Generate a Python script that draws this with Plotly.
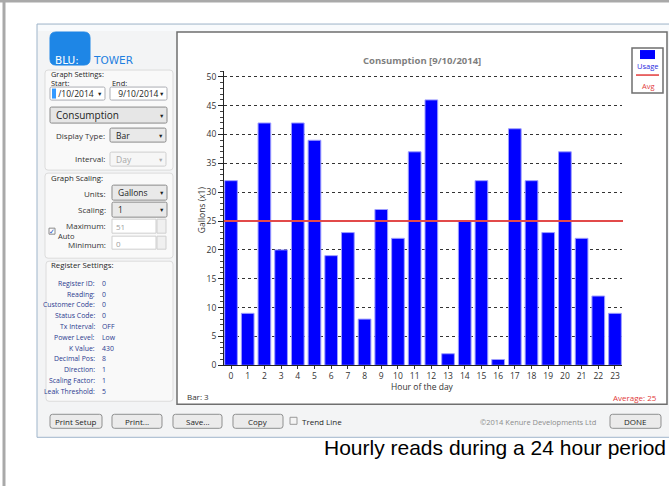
import plotly.graph_objects as go

W, H = 669, 491

# ---------------- data ----------------
hours = list(range(24))
usage = [32, 9, 42, 20, 42, 39, 19, 23, 8, 27, 22, 37, 46, 2, 25, 32, 1, 41, 32, 23, 37, 22, 12, 9]
y_tick_vals = list(range(0, 51, 5))
y_axis_max = 51
chart_title = "Consumption [9/10/2014]"
x_title = "Hour of the day"
y_title = "Gallons (x1)"
selected_bar = "Bar: 3"
caption = "Hourly reads during a 24 hour period"
register_labels = ["Register ID:", "Reading:", "Customer Code:", "Status Code:", "Tx Interval:",
                   "Power Level:", "K Value:", "Decimal Pos:", "Direction:", "Scaling Factor:",
                   "Leak Threshold:"]
register_values = ["0", "0", "0", "0", "OFF", "Low", "430", "8", "1", "1", "5"]
start_date = "9/10/2014"
end_date = "9/10/2014"

avg = round(sum(usage) / len(usage))

# ---------------- pixel helpers ----------------
YK = 1.011  # vertical compensation for the photographed page


def X(px):
    return px / W


def Y(py):
    return max(0.0, 1 - py * YK / H)


PL, PR, PT, PB = 224, 622, 71, 365
UI_FONT = "Open Sans"

shapes = []
annotations = []


def rect(x0, y0, x1, y1, fill="rgba(0,0,0,0)", line="#a0a0a0", lw=1, layer="below"):
    shapes.append(dict(type="rect", xref="paper", yref="paper",
                       x0=X(x0), x1=X(x1), y0=Y(y1), y1=Y(y0),
                       fillcolor=fill, line=dict(color=line, width=lw), layer=layer))


def rrect(x0, y0, x1, y1, r=2, fill="#ececec", line="#9a9a9a", lw=1, layer="below"):
    def p(px, py):
        return f"{X(px):.5f},{Y(py):.5f}"
    path = (f"M {p(x0 + r, y0)} L {p(x1 - r, y0)} Q {p(x1, y0)} {p(x1, y0 + r)} "
            f"L {p(x1, y1 - r)} Q {p(x1, y1)} {p(x1 - r, y1)} "
            f"L {p(x0 + r, y1)} Q {p(x0, y1)} {p(x0, y1 - r)} "
            f"L {p(x0, y0 + r)} Q {p(x0, y0)} {p(x0 + r, y0)} Z")
    shapes.append(dict(type="path", xref="paper", yref="paper", path=path,
                       fillcolor=fill, line=dict(color=line, width=lw), layer=layer))


def hline(x0, x1, y, color, lw=1, layer="above"):
    shapes.append(dict(type="line", xref="paper", yref="paper",
                       x0=X(x0), x1=X(x1), y0=Y(y), y1=Y(y),
                       line=dict(color=color, width=lw), layer=layer))


def vline(x, y0, y1, color, lw=1, layer="above"):
    shapes.append(dict(type="line", xref="paper", yref="paper",
                       x0=X(x), x1=X(x), y0=Y(y0), y1=Y(y1),
                       line=dict(color=color, width=lw), layer=layer))


def txt(x, y, s, size=8.5, color="#1e1e1e", anchor="left", family=UI_FONT, angle=0):
    annotations.append(dict(x=X(x), y=Y(y), xref="paper", yref="paper", text=s,
                            showarrow=False, xanchor=anchor, yanchor="middle",
                            font=dict(size=size, color=color, family=family),
                            textangle=angle))


def combo(x0, y0, x1, y1, text, fill="#ffffff", line="#abadb3", tcolor="#1e1e1e", size=8.5):
    rrect(x0, y0, x1, y1, r=1.5, fill=fill, line=line)
    txt(x0 + 4, (y0 + y1) / 2, text, size=size, color=tcolor)
    txt(x1 - 6, (y0 + y1) / 2 + 0.5, "▼", size=5.5, color=tcolor, anchor="center")


def button(x0, y0, x1, y1, text):
    rrect(x0, y0, x1, y1, r=2.5, fill="#ebebeb", line="#8e8f8f")
    txt((x0 + x1) / 2, (y0 + y1) / 2, text, size=8, anchor="center")


# ---------------- outer frame & window ----------------
vline(4, 0, H, "#a9a9a9", lw=3, layer="below")
hline(0, W, 1, "#a9a9a9", lw=3, layer="below")
rect(37, 24, 672, 437, fill="#f3f4f5", line="#9fb5cb", lw=1)
rect(38, 25, 672, 31, fill="#f8fafc", line="rgba(0,0,0,0)", lw=0)

# logo
rrect(50, 32, 90, 65, r=6, fill="#1e86e6", line="#1e86e6")
txt(53, 60, "BLU:", size=10.5, color="#ffffff", family="DejaVu Sans")
txt(91, 60, "TOWER", size=10.5, color="#1e7fe0", family="DejaVu Sans")

# group boxes
rrect(45, 70, 173, 170, r=3, fill="#f9f9f9", line="#dcdcdc")
rrect(45, 173, 173, 258, r=3, fill="#f9f9f9", line="#dcdcdc")
rrect(46, 261, 173, 401, r=3, fill="#f9f9f9", line="#dcdcdc")

# graph settings
txt(49, 74, "Graph Settings:", size=7.4)
txt(49, 82.5, "Start:", size=7.4)
txt(110, 82.5, "End:", size=7.4)
combo(50, 87, 105, 100, " " + start_date[1:])
rect(52, 88.5, 56, 98.5, fill="#3399ff", line="#3399ff", lw=0)
combo(110, 87, 167, 100, " " + end_date)
combo(50, 107, 167, 123, "Consumption", fill="#e6e6e6", line="#8a8a8a", size=10)
txt(107, 135, "Display Type:", size=8, color="#333333", anchor="right")
combo(110, 128, 166, 142, "Bar", fill="#e9e9e9", line="#8a8a8a")
txt(107, 158, "Interval:", size=8, color="#333333", anchor="right")
combo(110, 152, 166, 166, "Day", fill="#f6f6f6", line="#cfcfcf", tcolor="#a8a8a8")

# graph scaling
txt(49, 178, "Graph Scaling:", size=7.8)
txt(108, 193, "Units:", size=8, color="#333333", anchor="right")
combo(112, 185, 167, 200, "Gallons", fill="#e9e9e9", line="#8a8a8a")
txt(108, 209, "Scaling:", size=8, color="#333333", anchor="right")
combo(112, 202, 167, 217, "1", fill="#e9e9e9", line="#8a8a8a")
txt(108, 225, "Maximum:", size=8, color="#333333", anchor="right")
rect(112, 219, 156, 233, fill="#ffffff", line="#cfcfcf")
txt(114, 226, str(y_axis_max), size=8, color="#a0a0a0")
rect(157, 219, 166, 233, fill="#f0f0f0", line="#cfcfcf")
txt(108, 244.5, "Minimum:", size=8, color="#333333", anchor="right")
rect(112, 236, 156, 249, fill="#ffffff", line="#cfcfcf")
txt(114, 243, str(y_tick_vals[0]), size=8, color="#a0a0a0")
rect(157, 236, 166, 249, fill="#f0f0f0", line="#cfcfcf")
rect(49, 228, 55, 234, fill="#ffffff", line="#8a8a8a")
txt(52, 231, "✓", size=7, color="#2050c0", anchor="center")
txt(56, 235.5, "Auto", size=7.5, color="#333333")

# register settings
txt(49, 265, "Register Settings:", size=7.8)
for i, (lab, val) in enumerate(zip(register_labels, register_values)):
    yy = 283 + i * 10.8
    txt(97, yy, lab, size=6.9, color="#2b3990", anchor="right")
    txt(100, yy, val, size=6.9, color="#2b3990")

# bottom buttons
button(50, 414, 102, 428, "Print Setup")
button(112, 414, 162, 428, "Print...")
button(173, 414, 222, 428, "Save...")
button(233, 414, 283, 428, "Copy")
rect(290, 417, 297, 424, fill="#f4f4f4", line="#9a9a9a")
txt(300, 421, "Trend Line", size=8)
txt(598, 422, "©2014 Kenure Developments Ltd", size=7.5, color="#8c8c8c", anchor="right")
button(610, 414, 661, 428, "DONE")

# ---------------- chart panel ----------------
rect(177, 32, 667, 404, fill="#ffffff", line="#6f6f6f", lw=1.5)

txt(422, 60, f"<b>{chart_title}</b>", size=9.5, color="#7f7f7f", anchor="center")
txt(201, 210, y_title, size=8.5, color="#333333", anchor="center", angle=-90)
txt(422, 386, x_title, size=8.5, color="#333333", anchor="center")
txt(185, 396, selected_bar, size=8, color="#333333")
txt(659, 397, f"Average: {avg}", size=8, color="#e23a3a", anchor="right")

# legend
rect(632, 48, 663, 93, fill="#ffffff", line="#6f6f6f", lw=1.5, layer="above")
rect(640, 50, 655, 59, fill="#0000ff", line="#0000ff", lw=0, layer="above")
txt(648, 66, "Usage", size=7.5, color="#2a2ae0", anchor="center")
hline(636, 659, 75, "#e23a3a", lw=1.5)
txt(648, 86, "Avg", size=7.5, color="#e23a3a", anchor="center")

# average line
shapes.append(dict(type="line", xref="paper", yref="y", x0=X(PL), x1=X(623), y0=avg, y1=avg,
                   line=dict(color="#e24a4a", width=2), layer="above"))

# caption
txt(668, 447, caption, size=21, color="#000000", anchor="right", family="Liberation Sans")

# ---------------- figure ----------------
fig = go.Figure()
fig.add_trace(go.Bar(x=hours, y=usage, width=0.76,
                     marker=dict(color="#0000ff", line=dict(color="#9d9dff", width=1)),
                     name="Usage", showlegend=False))

fig.update_layout(
    width=W, height=H, autosize=False,
    margin=dict(l=0, r=0, t=0, b=0),
    paper_bgcolor="#ffffff", plot_bgcolor="rgba(0,0,0,0)",
    shapes=shapes, annotations=annotations,
    showlegend=False,
    xaxis=dict(domain=[X(PL), X(PR)], range=[-0.42, 23.42],
               tickvals=hours, ticktext=[str(h) for h in hours],
               ticks="outside", ticklen=3, tickcolor="#333333",
               showline=True, linecolor="#222222", linewidth=1,
               showgrid=False, zeroline=False,
               tickfont=dict(size=8.5, color="#333333", family=UI_FONT)),
    yaxis=dict(domain=[Y(PB), Y(PT)], range=[0, y_axis_max],
               tickvals=y_tick_vals, ticks="outside", ticklen=5, tickcolor="#222222",
               showline=True, linecolor="#222222", linewidth=1,
               showgrid=True, gridcolor="#333333", gridwidth=1, griddash="3px,3px",
               zeroline=False,
               minor=dict(dtick=1, ticks="outside", ticklen=3, tickcolor="#444444", showgrid=False),
               tickfont=dict(size=8.5, color="#333333", family=UI_FONT)),
)

fig.write_html(
    "out.html",
    config={"displayModeBar": False},
    post_script=("document.body.style.margin='0px';"
                 "var gd=document.getElementById('{plot_id}');"
                 "gd.style.position='fixed';gd.style.left='0px';gd.style.top='0px';"),
)
